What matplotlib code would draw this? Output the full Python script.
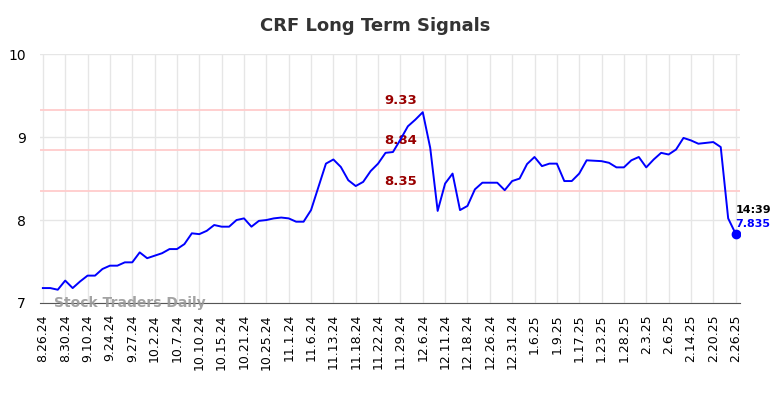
import matplotlib
matplotlib.use('Agg')
from matplotlib import pyplot as plt

# tick labels (every 3rd point) and closing prices
tick_labels = ['8.26.24', '8.30.24', '9.10.24', '9.24.24', '9.27.24', '10.2.24',
               '10.7.24', '10.10.24', '10.15.24', '10.21.24', '10.25.24', '11.1.24',
               '11.6.24', '11.13.24', '11.18.24', '11.22.24', '11.29.24', '12.6.24',
               '12.11.24', '12.18.24', '12.26.24', '12.31.24', '1.6.25', '1.9.25',
               '1.17.25', '1.23.25', '1.28.25', '2.3.25', '2.6.25', '2.14.25',
               '2.20.25', '2.26.25']

prices = [7.18, 7.18, 7.16, 7.27, 7.18, 7.26, 7.33, 7.33, 7.41, 7.45,
          7.45, 7.49, 7.49, 7.61, 7.54, 7.57, 7.60, 7.65, 7.65, 7.71,
          7.84, 7.83, 7.87, 7.94, 7.92, 7.92, 8.00, 8.02, 7.92, 7.99,
          8.00, 8.02, 8.03, 8.02, 7.98, 7.98, 8.12, 8.40, 8.68, 8.73,
          8.64, 8.48, 8.41, 8.46, 8.59, 8.68, 8.81, 8.82, 8.97, 9.13,
          9.21, 9.30, 8.87, 8.11, 8.44, 8.56, 8.12, 8.17, 8.37, 8.45,
          8.45, 8.45, 8.36, 8.47, 8.50, 8.675, 8.76, 8.65, 8.68, 8.68,
          8.47, 8.47, 8.56, 8.72, 8.715, 8.71, 8.69, 8.635, 8.635, 8.72,
          8.76, 8.635, 8.73, 8.81, 8.79, 8.85, 8.99, 8.96, 8.92, 8.93,
          8.94, 8.88, 8.02, 7.835]

levels = [9.33, 8.84, 8.35]
last_time = '14:39'

x = list(range(len(prices)))
tick_pos = [i * 3 for i in range(len(tick_labels))]

fig = plt.figure(figsize=(7.84, 3.98), dpi=100)
ax = fig.add_axes([0.0504, 0.2387, 0.8936, 0.6253])

for lv in levels:
    ax.axhline(lv, color='#ffcccc', linewidth=1.3, zorder=1)
    ax.text(48, lv + 0.035, '%.2f' % lv, color='#990000', fontsize=9.5,
            fontweight='bold', ha='center', va='bottom', zorder=3)

ax.plot(x, prices, color='blue', linewidth=1.4, zorder=4)
ax.plot(x[-1], prices[-1], 'o', color='blue', markersize=6, zorder=5)
ax.text(x[-1], prices[-1] + 0.23, last_time, fontsize=8, fontweight='bold',
        color='black', ha='left', va='bottom')
ax.text(x[-1], prices[-1] + 0.06, '%.3f' % prices[-1], fontsize=8,
        fontweight='bold', color='blue', ha='left', va='bottom')

ax.set_xlim(-0.45, 93.6)
ax.set_ylim(7, 10)
ax.set_yticks([7, 8, 9, 10])
ax.set_xticks(tick_pos)
ax.set_xticklabels(tick_labels, rotation=90, fontsize=9)
ax.tick_params(axis='y', labelsize=10, length=0, pad=10)
ax.tick_params(axis='x', length=0, pad=8)
ax.grid(True, color='#e6e6e6', linewidth=1)
ax.set_axisbelow(True)
for s in ['top', 'right', 'left']:
    ax.spines[s].set_visible(False)
ax.spines['bottom'].set_color('#555555')

ax.text(1.5, 7.0, 'Stock Traders Daily', fontsize=10, fontweight='bold',
        color='#999999', alpha=0.9, ha='left', va='center')

fig.text(0.478, 0.935, 'CRF Long Term Signals', fontsize=13, fontweight='bold',
         color='#333333', ha='center', va='center')

plt.savefig('out.png')
